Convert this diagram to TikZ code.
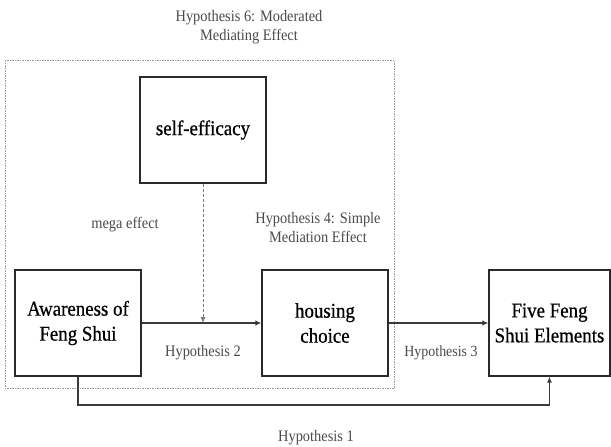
\documentclass[tikz,border=0pt]{standalone}
\usepackage{fontspec}
\setmainfont{Liberation Serif}
\newfontfamily\boxfont[FakeStretch=0.9,FakeBold=0.6]{Liberation Serif}
\newfontfamily\labfont[FakeStretch=0.9]{Liberation Serif}
\usetikzlibrary{arrows.meta}
\definecolor{lbl}{HTML}{4A4A4A}
\definecolor{frame}{HTML}{9A9A9A}
\definecolor{boxline}{HTML}{2A2A2A}
\definecolor{arr}{HTML}{3A3A3A}
\tikzset{
  varbox/.style={draw=boxline, line width=1.2pt, minimum height=106pt, inner sep=0pt, align=center, text=black, font=\boxfont\fontsize{21}{25}\selectfont},
  lab/.style={text=lbl, align=center, inner sep=0pt, font=\labfont\fontsize{16}{19}\selectfont},
  mainarrow/.style={draw=arr, line width=2pt, -{Latex[length=6pt,width=5.5pt]}},
  thinarrow/.style={draw=arr, line width=1.1pt, -{Latex[length=6pt,width=5pt]}},
  modarrow/.style={draw=frame!80!black, line width=0.8pt, dash pattern=on 3pt off 2pt, -{Latex[length=6pt,width=5pt]}},
  outerframe/.style={draw=frame, line width=0.9pt, dash pattern=on 1.5pt off 1pt}
}
\begin{document}
\begin{tikzpicture}[x=1pt,y=-1pt]
\useasboundingbox (0,0) rectangle (611,447);
\node[lab] (h6) at (249,27) {Hypothesis 6: Moderated\\Mediating Effect};
\draw[outerframe] (5,60) rectangle (394,388);
\node[varbox, minimum width=126pt] (se) at (203,130) {self-efficacy};
\node[varbox, minimum width=126pt] (aw) at (78,323) {Awareness of\\Feng Shui};
\node[varbox, minimum width=126pt] (hc) at (325,323) {housing\\choice};
\node[varbox, minimum width=121pt] (ff) at (549.5,323) {Five Feng\\Shui Elements};
\node[lab] (me) at (125,225) {mega effect};
\node[lab] (h4) at (318,228) {Hypothesis 4: Simple\\Mediation Effect};
\node[lab] (h2) at (203,353) {Hypothesis 2};
\node[lab, font=\labfont\fontsize{15.5}{19}\selectfont] (h3) at (441,353) {Hypothesis 3};
\node[lab] (h1) at (316,438) {Hypothesis 1};
\coordinate (m) at (203,323);
\coordinate (low) at (0,405);
\draw[mainarrow] (aw) -- (hc);
\draw[mainarrow] (hc) -- (ff);
\draw[modarrow] (se) -- (m);
\draw[thinarrow] (aw.south) -- (aw.south |- low) -| (ff.south);
\end{tikzpicture}
\end{document}
